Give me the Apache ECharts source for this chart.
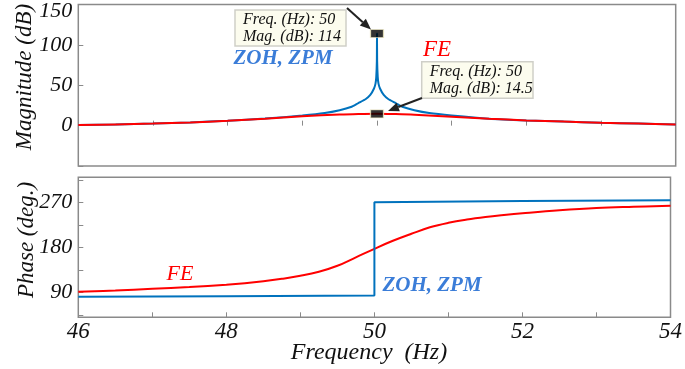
<!DOCTYPE html>
<html><head><meta charset="utf-8">
<script src="https://cdn.jsdelivr.net/npm/echarts@6/dist/echarts.min.js"></script>
<style>html,body{margin:0;padding:0;background:#fff}#c{width:685px;height:369px}</style>
</head><body><div id="c"></div>
<script>
// ---- data ----
const magFreqFE = [46, 46.5, 47, 47.5, 48, 48.5, 49, 49.5, 49.75, 50, 50.25, 50.5, 51, 51.5, 52, 52.5, 53, 53.5, 54];
const magFE     = [0.7, 1.5, 2.5, 4, 6, 8.5, 11.5, 13.8, 14.5, 14.8, 14.3, 13.5, 11, 8.5, 6.5, 5, 3.6, 2.5, 1.5];
const magFreqZOH = [46, 46.5, 47, 47.5, 48, 48.5, 49, 49.3, 49.5, 49.65, 49.75, 49.85, 49.91, 49.96, 49.98, 49.99, 49.998, 50,
                    50.002, 50.01, 50.02, 50.04, 50.09, 50.15, 50.25, 50.35, 50.5, 50.7, 51, 51.5, 52, 52.5, 53, 53.5, 54];
const magZOH     = [0.7, 1.5, 2.5, 4, 6, 8.7, 12.5, 15.5, 19, 23, 28, 33, 38, 46, 52, 60, 80, 114,
                    80, 60, 52, 46, 38, 33, 28, 23, 19, 15.5, 12.5, 8.6, 6.5, 5, 3.6, 2.5, 1.5];
const phFreqFE = [46, 46.5, 47, 47.5, 48, 48.25, 48.5, 48.75, 49, 49.25, 49.5, 49.75, 50, 50.25, 50.5, 50.75, 51, 51.25, 51.5, 51.75, 52, 52.5, 53, 53.5, 54];
const phFE     = [91, 93.5, 97, 100.5, 105, 108, 112, 117, 123, 131, 143, 160, 177, 193, 207, 220, 229, 235.5, 240.5, 244.5, 248, 254, 258.5, 261, 263];
const phFreqZOH = [46, 48, 50, 50, 52, 54];
const phZOH     = [81, 82, 83.5, 270, 272.5, 274];
const xLabelTicks = [46, 48, 50, 52, 54];
const magLabelTicks = [0, 50, 100, 150];
const phLabelTicks = [90, 180, 270];
const phMinorTicks = [45, 90, 135, 180, 225, 270, 315];
const peakFreq = 50, peakZOH = 114, peakFE = 14.5;

// ---- styles ----
const FONT = '"Liberation Serif", "Times New Roman", serif';
const BLUE = '#0072BD', RED = '#FF0000', LBLUE = '#3b7dd8', FRAME = '#8a8a8a';
const labelStyle = {fontFamily: FONT, fontStyle: 'italic', fontSize: 22, color: '#111'};
const zip = (xs, ys) => xs.map((x, i) => [x, ys[i]]);

const chart = echarts.init(document.getElementById('c'));
const tickStyle = {show: true, inside: true, length: 5, lineStyle: {color: FRAME, width: 1}};

chart.setOption({
  animation: false,
  grid: [
    {left: 78.3, right: 9.3, top: 4.5, height: 161.5, show: true, borderColor: FRAME, borderWidth: 1.5, backgroundColor: '#fff'},
    {left: 78.3, right: 9.3, top: 177.3, height: 140, show: true, borderColor: FRAME, borderWidth: 1.5, backgroundColor: '#fff'}
  ],
  xAxis: [
    {gridIndex: 0, type: 'value', min: 46, max: 54, interval: 1, axisLine: {show: false},
     axisTick: tickStyle, axisLabel: {show: false}, splitLine: {show: false}},
    {gridIndex: 1, type: 'value', min: 46, max: 54, interval: 1, axisLine: {show: false},
     axisTick: tickStyle, splitLine: {show: false},
     axisLabel: Object.assign({customValues: xLabelTicks, margin: 3}, labelStyle, {fontSize: 23})}
  ],
  yAxis: [
    {gridIndex: 0, type: 'value', min: -50, max: 150, interval: 50, axisLine: {show: false},
     axisTick: tickStyle, splitLine: {show: false},
     axisLabel: Object.assign({customValues: magLabelTicks, margin: 6,
       formatter: v => v === 150 ? '{t|150}' : String(v),
       rich: {t: {fontFamily: FONT, fontStyle: 'italic', fontSize: 22, color: '#111', padding: [13, 0, 0, 0]}}}, labelStyle)},
    {gridIndex: 1, type: 'value', min: 40, max: 320, axisLine: {show: false},
     axisTick: Object.assign({customValues: phMinorTicks}, tickStyle), splitLine: {show: false},
     axisLabel: Object.assign({customValues: phLabelTicks, margin: 6}, labelStyle)}
  ],
  series: [
    {type: 'line', xAxisIndex: 0, yAxisIndex: 0, data: zip(magFreqZOH, magZOH), showSymbol: false,
     lineStyle: {color: BLUE, width: 2}, smooth: 0.2, z: 2},
    {type: 'line', xAxisIndex: 0, yAxisIndex: 0, data: zip(magFreqFE, magFE), showSymbol: false,
     lineStyle: {color: RED, width: 2}, smooth: 0.3, z: 3},
    {type: 'line', xAxisIndex: 1, yAxisIndex: 1, data: zip(phFreqFE, phFE), showSymbol: false,
     lineStyle: {color: RED, width: 2}, smooth: 0.4, z: 2},
    {type: 'line', xAxisIndex: 1, yAxisIndex: 1, data: zip(phFreqZOH, phZOH), showSymbol: false,
     lineStyle: {color: BLUE, width: 2}, z: 3},
    {type: 'scatter', xAxisIndex: 0, yAxisIndex: 0, data: [[peakFreq, peakZOH], [peakFreq, peakFE]],
     symbol: 'rect', symbolSize: [13, 8], itemStyle: {color: '#000', borderColor: '#efe9c0', borderWidth: 1}, z: 10}
  ]
});

// ---- annotations ----
const p1 = chart.convertToPixel({gridIndex: 0}, [peakFreq, peakZOH]);
const p2 = chart.convertToPixel({gridIndex: 0}, [peakFreq, peakFE]);

function arrow(x0, y0, x1, y1) {
  const ang = Math.atan2(y1 - y0, x1 - x0), L = 11, W = 4.5;
  const bx = x1 - L * Math.cos(ang), by = y1 - L * Math.sin(ang);
  const nx = -Math.sin(ang), ny = Math.cos(ang);
  return [
    {type: 'line', shape: {x1: x0, y1: y0, x2: bx, y2: by}, style: {stroke: '#222', lineWidth: 2}, z: 20},
    {type: 'polygon', shape: {points: [[x1, y1], [bx + nx * W, by + ny * W], [bx - nx * W, by - ny * W]]},
     style: {fill: '#222'}, z: 20}
  ];
}
function box(x, y, w, h, txt) {
  return [
    {type: 'rect', shape: {x: x, y: y, width: w, height: h}, style: {fill: '#fcfcee', stroke: '#cfcfc8', lineWidth: 1.5}, z: 15},
    {type: 'text', x: x + 8, y: y + h / 2, style: {text: txt, fontFamily: FONT, fontStyle: 'italic', fontSize: 16,
      lineHeight: 17, fill: '#111', textVerticalAlign: 'middle', textAlign: 'left'}, z: 16}
  ];
}
function label(x, y, txt, color, bold, size, rot) {
  return {type: 'text', x: x, y: y, rotation: rot || 0,
    style: {text: txt, fontFamily: FONT, fontStyle: 'italic', fontWeight: bold ? 'bold' : 'normal',
      fontSize: size, fill: color, textAlign: 'center', textVerticalAlign: 'middle'}, z: 12};
}

const graphics = [].concat(
  box(235, 10, 111, 36, 'Freq. (Hz): 50\nMag. (dB): 114'),
  box(421.7, 61.7, 111.3, 36.6, 'Freq. (Hz): 50\nMag. (dB): 14.5'),
  arrow(347, 8, p1[0] - 6, p1[1] - 4),
  arrow(422, 98, p2[0] + 11, p2[1] - 3),
  [
    label(283, 59, 'ZOH, ZPM', LBLUE, true, 21),
    label(437, 50, 'FE', RED, false, 23),
    label(180, 274, 'FE', RED, false, 22),
    label(432, 286, 'ZOH, ZPM', LBLUE, true, 21),
    label(25, 77, 'Magnitude (dB)', '#111', false, 23, Math.PI / 2),
    label(27, 240, 'Phase (deg.)', '#111', false, 23, Math.PI / 2),
    label(369, 353, 'Frequency  (Hz)', '#111', false, 24)
  ]
);
chart.setOption({graphic: graphics});
</script>
</body></html>
